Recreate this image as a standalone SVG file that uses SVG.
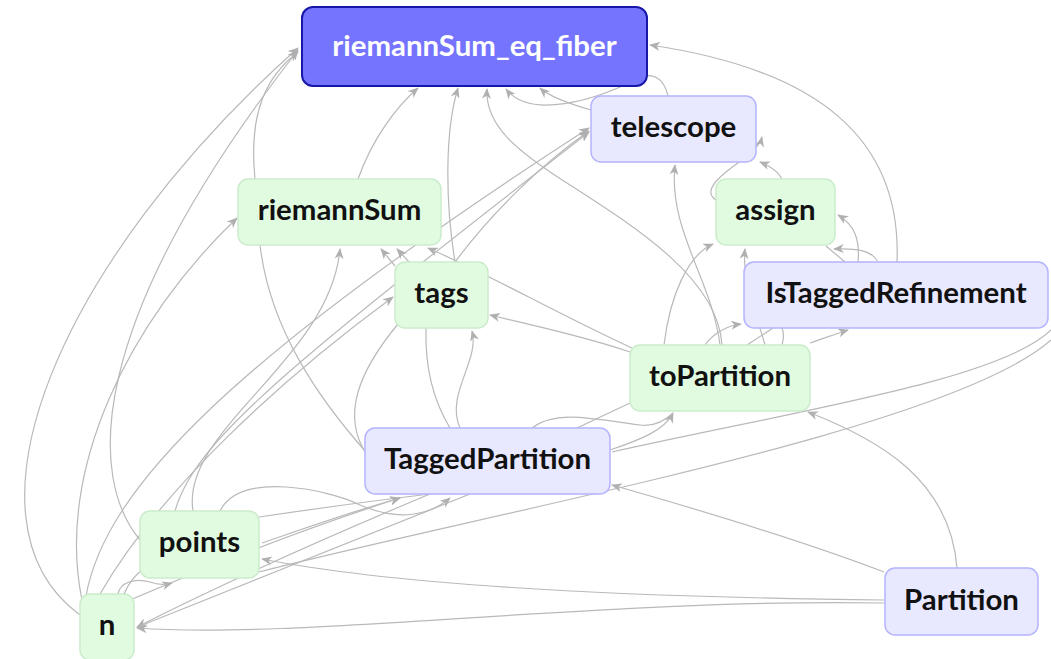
<svg xmlns="http://www.w3.org/2000/svg" width="1051" height="659" viewBox="0 0 1051 659">
  <style>
    .edge { fill: none; stroke: #b9b9b9; stroke-width: 1.2; }
    .arr { marker-end: url(#head); }
    .node rect { stroke-width: 1.5; }
    .lemma rect { fill: #e0fbe0; stroke: #cbeccb; }
    .def rect { fill: #e8e8ff; stroke: #b4b4ff; }
    .root rect { fill: #7474ff; stroke: #1818a8; stroke-width: 2; }
    .node text { font-family: Lato, "Noto Sans", sans-serif; font-weight: 700; font-size: 29.4px; text-anchor: middle; fill: #111; }
    .root text { fill: #ffffff; }
  </style>
  <defs>
    <marker id="head" viewBox="0 0 12 10" refX="11" refY="5" markerWidth="11" markerHeight="9" markerUnits="userSpaceOnUse" orient="auto">
      <path d="M0,0 L12,5 L0,10 L3.5,5 z" fill="#b0b0b0"/>
    </marker>
  </defs>
  <rect width="1051" height="659" fill="#ffffff"/>

  <g id="connectors">
    <!-- into riemannSum_eq_fiber -->
    <path class="edge arr" d="M80,615 C -50,520 60,260 298,48"/>
    <path class="edge arr" d="M140,540 C 90,480 80,330 298,50"/>
    <path class="edge arr" d="M255,179 C 248,110 268,75 298,52"/>
    <path class="edge arr" d="M358,179 C 372,140 395,108 418,88"/>
    <path class="edge arr" d="M455,262 C 445,200 445,130 458,88"/>
    <path class="edge arr" d="M722,345 C 718,280 640,230 570,185 C 515,150 485,125 487,89"/>
    <path class="edge arr" d="M668,96 C 664,78 652,70 635,80 C 595,100 530,120 506,89"/>
    <path class="edge arr" d="M591,110 C 570,104 550,97 540,88"/>
    <path class="edge arr" d="M897,262 C 902,140 820,70 650,45"/>

    <!-- into telescope -->
    <path class="edge arr" d="M86,596 C 105,490 230,360 589,128"/>
    <path class="edge arr" d="M175,511 C 195,440 290,365 589,132"/>
    <path class="edge arr" d="M455,262 C 490,215 540,165 589,131"/>
    <path class="edge arr" d="M720,345 C 712,280 668,230 675,165"/>
    <path class="edge arr" d="M782,179 C 778,171 770,166 760,162"/>
    <path class="edge arr" d="M716,200 C 700,190 725,172 742,160 C 752,152 760,145 762,137"/>

    <!-- into riemannSum -->
    <path class="edge arr" d="M82,600 C 55,470 130,320 237,218"/>
    <path class="edge arr" d="M193,511 C 180,430 330,360 340,249"/>
    <path class="edge" d="M366,452 C 320,400 270,330 260,245"/>
    <path class="edge arr" d="M632,348 C 560,315 490,275 428,248"/>
    <path class="edge arr" d="M410,263 L 397,249"/>
    <path class="edge arr" d="M395,266 C 390,260 386,255 381,249"/>

    <!-- into tags -->
    <path class="edge arr" d="M100,594 C 160,490 280,380 393,297"/>
    <path class="edge arr" d="M460,428 C 445,395 480,360 472,331"/>
    <path class="edge" d="M450,428 C 430,395 425,360 426,328"/>
    <path class="edge" d="M367,455 C 340,415 360,370 398,324"/>
    <path class="edge arr" d="M630,352 C 580,335 530,325 490,315"/>

    <!-- into assign -->
    <path class="edge arr" d="M664,345 C 670,295 688,255 713,244"/>
    <path class="edge arr" d="M765,345 C 755,310 742,280 745,249"/>
    <path class="edge arr" d="M858,262 C 860,240 855,225 838,215"/>
    <path class="edge arr" d="M878,262 C 872,250 855,248 834,249"/>
    <path class="edge" d="M845,262 L 826,246"/>

    <!-- into IsTaggedRefinement -->
    <path class="edge arr" d="M705,345 C 712,335 725,326 741,324"/>
    <path class="edge" d="M747,345 L 773,328"/>
    <path class="edge" d="M782,345 C 784,338 784,333 782,328"/>
    <path class="edge arr" d="M810,343 C 825,338 835,334 848,330"/>
    <path class="edge" d="M612,452 C 800,410 1000,380 1051,330"/>
    <path class="edge" d="M259,572 C 500,510 950,430 1051,340"/>

    <!-- into toPartition -->
    <path class="edge arr" d="M610,450 C 640,440 665,430 673,413"/>
    <path class="edge" d="M532,428 C 555,410 590,418 640,425 C 655,427 665,420 673,413"/>
    <path class="edge" d="M577,428 L 630,403"/>
    <path class="edge arr" d="M957,568 C 950,480 880,440 808,412"/>

    <!-- into TaggedPartition -->
    <path class="edge arr" d="M884,572 C 800,540 700,510 612,485"/>
    <path class="edge" d="M259,517 C 320,508 380,500 430,494"/>
    <path class="edge arr" d="M262,543 C 300,530 350,512 400,498"/>
    <path class="edge arr" d="M130,600 C 200,570 300,530 400,498"/>
    <path class="edge arr" d="M220,511 C 240,470 330,490 360,505 C 400,522 430,515 450,498"/>

    <!-- into points -->
    <path class="edge arr" d="M884,600 C 700,598 420,590 262,559"/>
    <path class="edge arr" d="M118,594 C 120,582 135,578 150,582 C 158,585 165,585 172,583"/>
    <path class="edge" d="M124,594 C 128,585 134,576 142,570"/>

    <!-- into n -->
    <path class="edge arr" d="M884,603 C 600,598 300,640 137,628"/>
    <path class="edge arr" d="M430,494 C 320,540 210,590 137,627"/>
    <path class="edge" d="M470,494 C 340,545 220,595 140,626"/>
  </g>

  <g id="riemannSum_eq_fiber" class="node root">
    <rect x="302" y="7" width="345" height="79" rx="11"/>
    <text x="474.5" y="56">riemannSum_eq_fiber</text>
  </g>
  <g id="telescope" class="node def">
    <rect x="591" y="96" width="165" height="66" rx="10"/>
    <text x="673.5" y="137">telescope</text>
  </g>
  <g id="riemannSum" class="node lemma">
    <rect x="238" y="179" width="203" height="66" rx="10"/>
    <text x="339.5" y="220">riemannSum</text>
  </g>
  <g id="assign" class="node lemma">
    <rect x="716" y="179" width="119" height="66" rx="10"/>
    <text x="775.5" y="220">assign</text>
  </g>
  <g id="tags" class="node lemma">
    <rect x="395" y="262" width="93" height="66" rx="10"/>
    <text x="441.5" y="303">tags</text>
  </g>
  <g id="IsTaggedRefinement" class="node def">
    <rect x="744" y="262" width="304" height="66" rx="10"/>
    <text x="896" y="303">IsTaggedRefinement</text>
  </g>
  <g id="toPartition" class="node lemma">
    <rect x="630" y="345" width="180" height="66" rx="10"/>
    <text x="720" y="386">toPartition</text>
  </g>
  <g id="TaggedPartition" class="node def">
    <rect x="365" y="428" width="245" height="66" rx="10"/>
    <text x="487.5" y="469">TaggedPartition</text>
  </g>
  <g id="points" class="node lemma">
    <rect x="140" y="511" width="119" height="67" rx="10"/>
    <text x="199.5" y="552">points</text>
  </g>
  <g id="n" class="node lemma">
    <rect x="80" y="594" width="54" height="66" rx="10"/>
    <text x="107" y="635">n</text>
  </g>
  <g id="Partition" class="node def">
    <rect x="885" y="568" width="153" height="67" rx="10"/>
    <text x="961.5" y="610">Partition</text>
  </g>
</svg>
